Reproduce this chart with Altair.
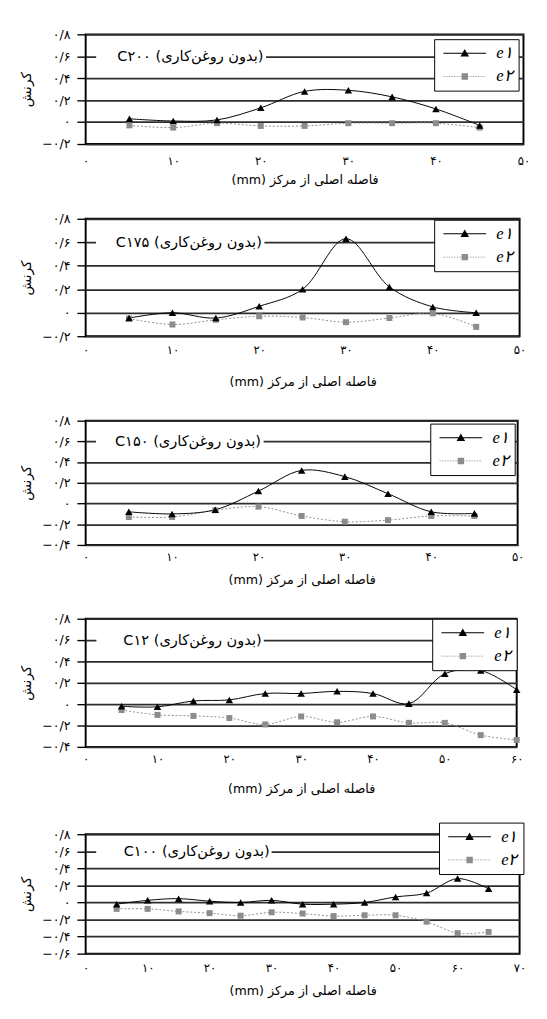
import altair as alt
import pandas as pd

# ---------------- data ----------------
SERIES = ["e۱", "e۲"]
X_TITLE = "(mm) فاصله اصلی از مرکز"
Y_TITLE = "کرنش"
NOTE_SUFFIX = "(بدون روغن‌کاری)"
PANEL_NAMES = ["C۲۰۰", "C۱۷۵", "C۱۵۰", "C۱۲", "C۱۰۰"]
X_MAX = [50, 50, 50, 60, 70]
Y_MIN = [-0.2, -0.2, -0.4, -0.4, -0.6]
Y_MAX = 0.8

X_TICK_VALUES = [0, 10, 20, 30, 40, 50, 60, 70]
X_TICK_LABELS = ["۰", "۱۰", "۲۰", "۳۰", "۴۰", "۵۰", "۶۰", "۷۰"]
Y_TICK_VALUES = [-0.6, -0.4, -0.2, 0.0, 0.2, 0.4, 0.6, 0.8]
Y_TICK_LABELS = ["−۰/۶", "−۰/۴", "−۰/۲", "۰", "۰/۲", "۰/۴", "۰/۶", "۰/۸"]

X_1 = [5, 10, 15, 20, 25, 30, 35, 40, 45]
E1_1 = [0.03, 0.01, 0.02, 0.13, 0.28, 0.29, 0.23, 0.12, -0.03]
E2_1 = [-0.03, -0.05, -0.01, -0.035, -0.035, -0.01, -0.01, -0.01, -0.05]

X_2 = [5, 10, 15, 20, 25, 30, 35, 40, 45]
E1_2 = [-0.045, 0.0, -0.045, 0.055, 0.2, 0.63, 0.22, 0.05, 0.0]
E2_2 = [-0.05, -0.10, -0.06, -0.03, -0.04, -0.08, -0.045, -0.005, -0.12]

X_3 = [5, 10, 15, 20, 25, 30, 35, 40, 45]
E1_3 = [-0.08, -0.10, -0.06, 0.12, 0.32, 0.26, 0.095, -0.08, -0.095]
E2_3 = [-0.13, -0.13, -0.065, -0.03, -0.12, -0.175, -0.16, -0.12, -0.12]

X_4 = [5, 10, 15, 20, 25, 30, 35, 40, 45, 50, 55, 60]
E1_4 = [-0.02, -0.025, 0.03, 0.04, 0.10, 0.10, 0.12, 0.10, 0.005, 0.285, 0.315, 0.135]
E2_4 = [-0.055, -0.10, -0.11, -0.13, -0.19, -0.115, -0.17, -0.115, -0.175, -0.175, -0.29, -0.335]

X_5 = [5, 10, 15, 20, 25, 30, 35, 40, 45, 50, 55, 60, 65]
E1_5 = [-0.02, 0.025, 0.045, 0.015, 0.0, 0.025, -0.02, -0.02, 0.0, 0.065, 0.11, 0.28, 0.16]
E2_5 = [-0.075, -0.075, -0.105, -0.125, -0.155, -0.115, -0.13, -0.16, -0.15, -0.15, -0.225, -0.36, -0.345]

XS = [X_1, X_2, X_3, X_4, X_5]
E1S = [E1_1, E1_2, E1_3, E1_4, E1_5]
E2S = [E2_1, E2_2, E2_3, E2_4, E2_5]

# annotation extent (in x data units) and y level of the note
NOTE_LEFT = [1.2, 1.2, 1.2, 1.5, 1.7]
NOTE_RIGHT = [20.6, 20.6, 20.6, 24.8, 30.0]
NOTE_Y = 0.6

# ---------------- styles ----------------
FONT = "DejaVu Sans"
WIDTHS = [451, 447, 445, 444, 447]
HEIGHTS = [113, 121, 128, 132, 123]
X_LABEL_PAD = [12, 9, 7, 7, 9]
X_TITLE_PAD = [8, 21, 12, 19, 12]
LEGEND_OFFSET = [5, 1, 3, 0, 0]
COLORS = ["#000000", "#8c8c8c"]


def legend_line_path(kind):
    # custom legend symbol: a line with a marker in its middle (unit box scaled by sqrt(size)/2)
    if kind == 0:
        line = "M-4,-0.09L4,-0.09L4,0.09L-4,0.09Z"
        marker = "M0,-0.8L0.8,0.6L-0.8,0.6Z"
        return line + marker
    segs = []
    p = -4.0
    while p < 4.0:
        q = min(p + 0.28, 4.0)
        segs.append(f"M{p:.2f},-0.07L{q:.2f},-0.07L{q:.2f},0.07L{p:.2f},0.07Z")
        p += 0.5
    marker = "M-0.6,-0.6L0.6,-0.6L0.6,0.6L-0.6,0.6Z"
    return "".join(segs) + marker


def x_label_expr():
    parts = [f"datum.value == {v} ? '{l}' : " for v, l in zip(X_TICK_VALUES, X_TICK_LABELS)]
    return "".join(parts) + "''"


def y_label_expr():
    parts = [f"round(datum.value*10) == {round(v*10)} ? '{l}' : " for v, l in zip(Y_TICK_VALUES, Y_TICK_LABELS)]
    return "".join(parts) + "''"


def make_legend(i):
    common = dict(
        title=None, fillColor="white", strokeColor="#000",
        padding=6, symbolSize=121, symbolOpacity=1, symbolStrokeWidth=0, symbolOffset=17,
        labelOffset=24, labelFont="Liberation Serif", labelFontStyle="italic", labelFontSize=17,
        labelColor="#000", rowPadding=6,
    )
    if i == 4:
        # last panel: legend box pokes above the plot frame
        return alt.Legend(orient="none", legendX=WIDTHS[i] - 83, legendY=-12, **common)
    return alt.Legend(orient="top-right", offset=LEGEND_OFFSET[i], **common)


def panel(i):
    xs, e1, e2 = XS[i], E1S[i], E2S[i]
    df = pd.DataFrame({
        "x": xs + xs,
        "y": e1 + e2,
        "series": [SERIES[0]] * len(xs) + [SERIES[1]] * len(xs),
    })
    note = pd.DataFrame({
        "x0": [NOTE_LEFT[i]], "x1": [NOTE_RIGHT[i]], "xt": [NOTE_RIGHT[i] - 0.3],
        "y": [NOTE_Y], "text": [PANEL_NAMES[i] + " " + NOTE_SUFFIX],
    })
    xscale = alt.Scale(domain=[0, X_MAX[i]], nice=False, zero=False)
    yscale = alt.Scale(domain=[Y_MIN[i], Y_MAX], nice=False, zero=False)
    xaxis = alt.Axis(
        values=[v for v in X_TICK_VALUES if v <= X_MAX[i]],
        labelExpr=x_label_expr(), title=X_TITLE, grid=False, ticks=False, domain=False,
        labelFont=FONT, labelFontSize=12, labelColor="#000", labelPadding=X_LABEL_PAD[i],
        labelFlush=False, titleFont=FONT, titleFontSize=13, titleFontWeight="normal",
        titleColor="#000", titlePadding=X_TITLE_PAD[i],
    )
    yvals = [v for v in Y_TICK_VALUES if v >= Y_MIN[i] - 1e-9]
    yaxis = alt.Axis(
        values=yvals, labelExpr=y_label_expr(), title=Y_TITLE, grid=True,
        gridColor="#2e2e2e", gridWidth=1.8, tickSize=9, tickColor="#000", tickWidth=1.4,
        domain=False, labelFont=FONT, labelFontSize=13, labelColor="#000", labelPadding=7,
        labelFlush=False, titleFont=FONT, titleFontSize=14, titleFontWeight="normal",
        titleColor="#000", titlePadding=9,
    )
    X = lambda f="x": alt.X(f"{f}:Q", scale=xscale, axis=xaxis)
    Y = lambda f="y": alt.Y(f"{f}:Q", scale=yscale, axis=yaxis)

    base = alt.Chart(df)
    s1 = base.transform_filter(alt.datum.series == SERIES[0])
    s2 = base.transform_filter(alt.datum.series == SERIES[1])

    # white background behind the note: a thin band around the gridline
    half = (Y_MAX - Y_MIN[i]) * 0.065
    note_bg = alt.Chart(note).transform_calculate(
        ya=f"datum.y - {half}", yb=f"datum.y + {half}"
    ).mark_rect(color="white").encode(x=X("x0"), x2="x1:Q", y=Y("ya"), y2="yb:Q")
    note_text = alt.Chart(note).mark_text(
        align="right", baseline="middle", font=FONT, fontSize=15, color="#000"
    ).encode(x=X("xt"), y=Y("y"), text="text:N")

    line1 = s1.mark_line(interpolate="catmull-rom", color=COLORS[0], strokeWidth=1).encode(x=X(), y=Y())
    line2 = s2.mark_line(interpolate="catmull-rom", color=COLORS[1], strokeWidth=1,
                         strokeDash=[2, 2]).encode(x=X(), y=Y())
    pts1 = s1.mark_point(shape="triangle-up", filled=True, color=COLORS[0], size=60,
                         opacity=1).encode(x=X(), y=Y())
    pts2 = s2.mark_point(shape="square", filled=True, color=COLORS[1], size=38,
                         opacity=1).encode(x=X(), y=Y())

    leg = make_legend(i)
    legend_layer = base.mark_point(filled=True, opacity=0, size=121).encode(
        x=X(), y=Y(),
        color=alt.Color("series:N", scale=alt.Scale(domain=SERIES, range=COLORS), legend=leg),
        shape=alt.Shape("series:N",
                        scale=alt.Scale(domain=SERIES, range=[legend_line_path(0), legend_line_path(1)]),
                        legend=leg),
    )
    return alt.layer(note_bg, note_text, line2, line1, pts2, pts1, legend_layer).properties(
        width=WIDTHS[i], height=HEIGHTS[i]
    )


chart = alt.vconcat(*[panel(i) for i in range(5)], spacing=25).resolve_scale(
    color="independent", shape="independent"
).resolve_legend(color="independent", shape="independent").configure_view(
    stroke="#000", strokeWidth=2
).properties(padding={"left": 10, "top": 5, "right": 0, "bottom": 0})

chart.save("out.html", embed_options={"renderer": "svg", "actions": False})
